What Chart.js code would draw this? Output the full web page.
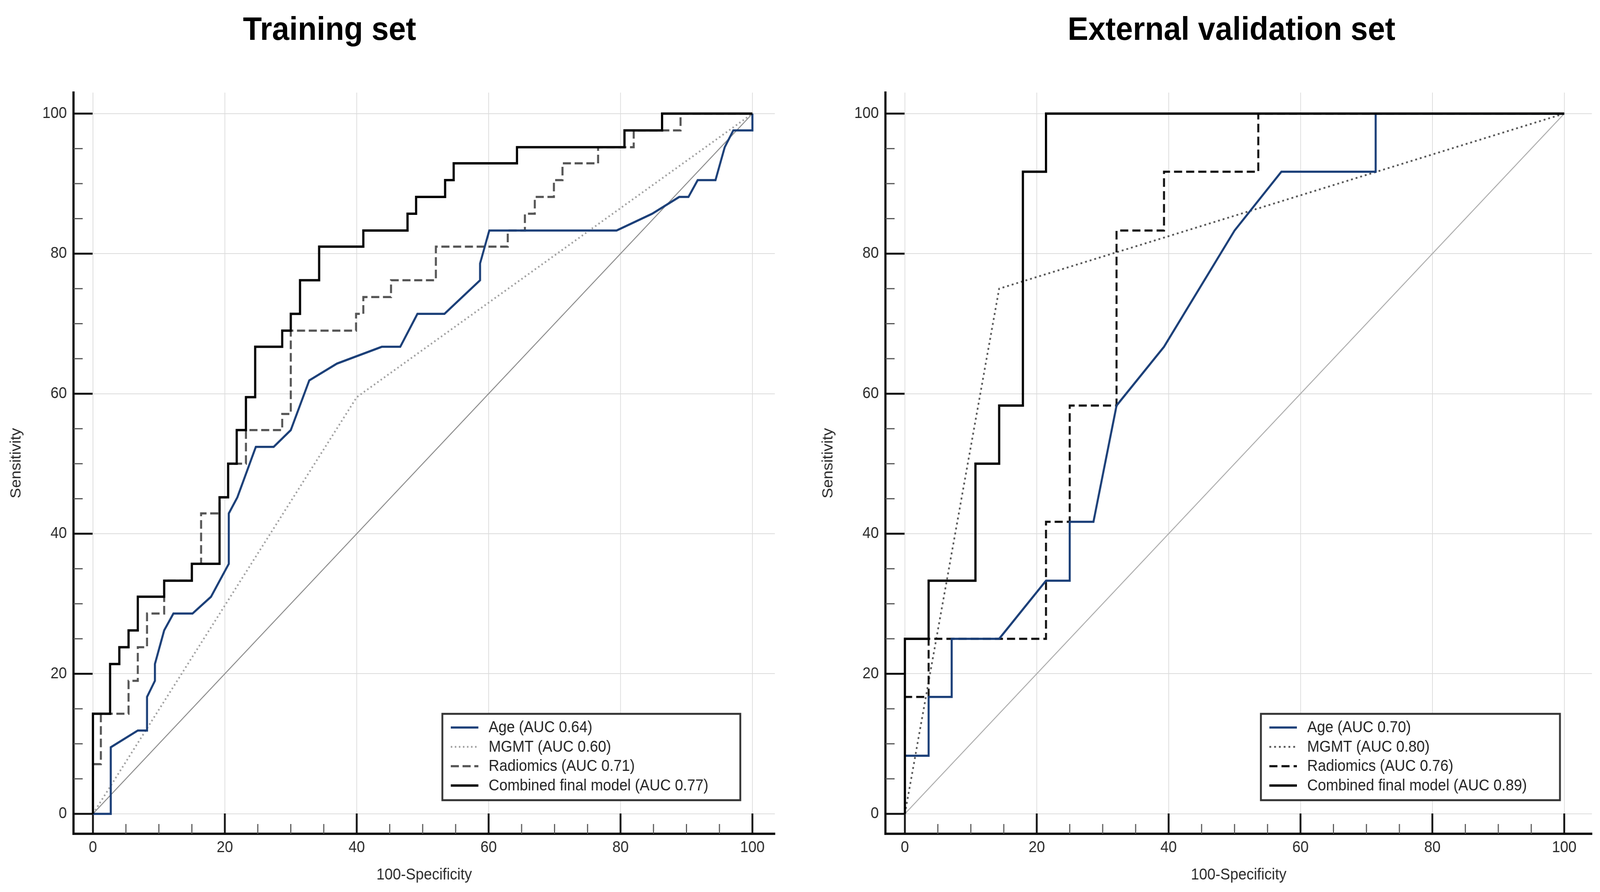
<!DOCTYPE html>
<html>
<head>
<meta charset="utf-8">
<script src="https://cdn.jsdelivr.net/npm/chart.js@4.4.1/dist/chart.umd.min.js"></script>
<style>
  html, body { margin: 0; padding: 0; background: #fff; overflow: hidden; }
  body { font-family: "Liberation Sans", Arial, sans-serif; }
  #page { position: absolute; left: 0; top: 0; width: 4355px; height: 2283px; transform-origin: 0 0; background: #fff; }
  .title { position: absolute; top: 31px; font-size: 84px; font-weight: bold; line-height: 1; white-space: nowrap; transform: translateX(-50%); color: #000; }
  canvas { position: absolute; top: 0; }
</style>
</head>
<body>
<div id="page">
  <div class="title" style="left:897px">Training set</div>
  <div class="title" style="left:3352px">External validation set</div>
  <canvas id="train" width="2205" height="2283" style="left:0;width:2205px;height:2283px"></canvas>
  <canvas id="valid" width="2145" height="2283" style="left:2210px;width:2145px;height:2283px"></canvas>
</div>
<script>
// axis ticks
const majorTicks = [0, 20, 40, 60, 80, 100];
const tickLabels = ["0", "20", "40", "60", "80", "100"];
const minorTicks = [5, 10, 15, 25, 30, 35, 45, 50, 55, 65, 70, 75, 85, 90, 95];

const seriesNames = ["Age", "MGMT", "Radiomics", "Combined final model"];
const trainAuc = ["0.64", "0.60", "0.71", "0.77"];
const validAuc = ["0.70", "0.80", "0.76", "0.89"];

// reference diagonal
const chanceX = [0, 100];
const chanceY = [0, 100];

// training set: 100-specificity (x) and sensitivity (y)
const trainAgeX = [0, 2.7, 2.7, 6.8, 8.2, 8.2, 9.4, 9.4, 10.8, 12.2, 15.1, 17.9, 20.6, 20.6, 21.9, 24.7, 27.4, 30.0, 32.8, 37.0, 43.8, 46.6, 49.2, 53.3, 58.7, 58.7, 60.1, 79.4, 84.8, 88.9, 90.3, 91.7, 94.4, 95.8, 97.1, 100, 100];
const trainAgeY = [0, 0, 9.5, 11.9, 11.9, 16.7, 19.0, 21.4, 26.2, 28.6, 28.6, 31.0, 35.7, 42.9, 45.2, 52.4, 52.4, 54.8, 61.9, 64.3, 66.7, 66.7, 71.4, 71.4, 76.2, 78.6, 83.3, 83.3, 85.7, 88.1, 88.1, 90.5, 90.5, 95.2, 97.6, 97.6, 100];

const trainMgmtX = [0, 40, 100];
const trainMgmtY = [0, 59.5, 100];

const trainRadX = [0, 0, 1.2, 1.2, 5.4, 5.4, 6.8, 6.8, 8.2, 8.2, 10.8, 10.8, 15.0, 15.0, 16.4, 16.4, 19.2, 19.2, 20.5, 20.5, 23.2, 23.2, 28.7, 28.7, 30.0, 30.0, 39.9, 39.9, 41.0, 41.0, 45.2, 45.2, 52.0, 52.0, 62.9, 62.9, 65.5, 65.5, 67.0, 67.0, 69.9, 69.9, 71.2, 71.2, 76.6, 76.6, 82.0, 82.0, 89.1, 89.1, 100];
const trainRadY = [0, 7.1, 7.1, 14.3, 14.3, 19.0, 19.0, 23.8, 23.8, 28.6, 28.6, 33.3, 33.3, 35.7, 35.7, 42.9, 42.9, 45.2, 45.2, 50.0, 50.0, 54.8, 54.8, 57.1, 57.1, 69.0, 69.0, 71.4, 71.4, 73.8, 73.8, 76.2, 76.2, 81.0, 81.0, 83.3, 83.3, 85.7, 85.7, 88.1, 88.1, 90.5, 90.5, 92.9, 92.9, 95.2, 95.2, 97.6, 97.6, 100, 100];

const trainCombX = [0, 0, 2.6, 2.6, 4.0, 4.0, 5.4, 5.4, 6.8, 6.8, 10.8, 10.8, 15.0, 15.0, 19.2, 19.2, 20.5, 20.5, 21.8, 21.8, 23.2, 23.2, 24.6, 24.6, 28.7, 28.7, 30.0, 30.0, 31.4, 31.4, 34.3, 34.3, 41.0, 41.0, 47.7, 47.7, 49.0, 49.0, 53.4, 53.4, 54.7, 54.7, 64.3, 64.3, 80.6, 80.6, 86.3, 86.3, 100];
const trainCombY = [0, 14.3, 14.3, 21.4, 21.4, 23.8, 23.8, 26.2, 26.2, 31.0, 31.0, 33.3, 33.3, 35.7, 35.7, 45.2, 45.2, 50.0, 50.0, 54.8, 54.8, 59.5, 59.5, 66.7, 66.7, 69.0, 69.0, 71.4, 71.4, 76.2, 76.2, 81.0, 81.0, 83.3, 83.3, 85.7, 85.7, 88.1, 88.1, 90.5, 90.5, 92.9, 92.9, 95.2, 95.2, 97.6, 97.6, 100, 100];

// external validation set
const validAgeX = [0, 0, 3.6, 3.6, 7.1, 7.1, 14.3, 21.4, 25.0, 25.0, 28.6, 32.1, 39.3, 50.0, 57.1, 71.4, 71.4, 100];
const validAgeY = [0, 8.3, 8.3, 16.7, 16.7, 25.0, 25.0, 33.3, 33.3, 41.7, 41.7, 58.3, 66.7, 83.3, 91.7, 91.7, 100, 100];

const validMgmtX = [0, 14.3, 100];
const validMgmtY = [0, 75, 100];

const validRadX = [0, 0, 3.6, 3.6, 21.4, 21.4, 25.0, 25.0, 32.1, 32.1, 39.3, 39.3, 53.6, 53.6, 100];
const validRadY = [0, 16.7, 16.7, 25.0, 25.0, 41.7, 41.7, 58.3, 58.3, 83.3, 83.3, 91.7, 91.7, 100, 100];

const validCombX = [0, 0, 3.6, 3.6, 10.7, 10.7, 14.3, 14.3, 17.9, 17.9, 21.4, 21.4, 100];
const validCombY = [0, 25.0, 25.0, 33.3, 33.3, 50.0, 50.0, 58.3, 58.3, 91.7, 91.7, 100, 100];

// stretch the 4355x2283 page over whatever viewport we actually get
const page = document.getElementById("page");
const sx = window.innerWidth / 4355;
const sy = window.innerHeight / 2283;
if (sx > 0 && sy > 0 && (Math.abs(sx - 1) > 0.001 || Math.abs(sy - 1) > 0.001)) {
  page.style.transform = `scale(${sx}, ${sy})`;
}

Chart.defaults.font.family = "'Liberation Sans', Arial, sans-serif";
Chart.defaults.color = "#2a2a2a";

function pts(xs, ys) {
  return xs.map((x, i) => ({ x: x, y: ys[i] }));
}

// inward tick marks + boxed legend inside the plot
const rocPlugin = {
  id: "roc",
  beforeDatasetsDraw(chart) {
    const { ctx, chartArea: a, scales } = chart;
    ctx.save();
    ctx.lineCap = "butt";
    const mark = (list, len, w, col) => {
      ctx.strokeStyle = col;
      ctx.lineWidth = w;
      list.forEach(v => {
        const px = scales.x.getPixelForValue(v);
        ctx.beginPath(); ctx.moveTo(px, a.bottom); ctx.lineTo(px, a.bottom - len); ctx.stroke();
        const py = scales.y.getPixelForValue(v);
        ctx.beginPath(); ctx.moveTo(a.left, py); ctx.lineTo(a.left + len, py); ctx.stroke();
      });
    };
    mark(minorTicks, 25, 3, "#555");
    mark(majorTicks, 52, 5, "#111");
    ctx.restore();
  },
  afterDraw(chart, args, opts) {
    const { ctx } = chart;
    const b = opts.box;
    if (!b) return;
    ctx.save();
    ctx.fillStyle = "#fff";
    ctx.fillRect(b.left, b.top, b.width, b.height);
    ctx.strokeStyle = "#333";
    ctx.lineWidth = 5;
    ctx.strokeRect(b.left, b.top, b.width, b.height);
    ctx.font = "40px 'Liberation Sans', Arial, sans-serif";
    ctx.textBaseline = "middle";
    ctx.textAlign = "left";
    chart.data.datasets.filter(d => d.label).forEach((d, i) => {
      const yy = b.top + 35 + i * 49.5;
      ctx.strokeStyle = d.borderColor;
      ctx.lineWidth = d.borderWidth;
      ctx.setLineDash(d.borderDash || []);
      ctx.beginPath(); ctx.moveTo(b.left + 23, yy); ctx.lineTo(b.left + 98, yy); ctx.stroke();
      ctx.setLineDash([]);
      ctx.fillStyle = "#222";
      ctx.fillText(d.label, b.left + 126, yy + 1);
    });
    ctx.restore();
  }
};

function makeRoc(id, sets, auc, xMax, padRight, box) {
  const datasets = [
    { label: `${seriesNames[0]} (AUC ${auc[0]})`, data: pts(sets.ageX, sets.ageY), borderColor: "#1b3f78", borderWidth: 5.5, order: 2 },
    { label: `${seriesNames[1]} (AUC ${auc[1]})`, data: pts(sets.mgmtX, sets.mgmtY), borderColor: sets.mgmtColor, borderWidth: 4.5, borderDash: sets.mgmtDash, order: 4 },
    { label: `${seriesNames[2]} (AUC ${auc[2]})`, data: pts(sets.radX, sets.radY), borderColor: sets.radColor, borderWidth: 5.5, borderDash: sets.radDash, order: 3 },
    { label: `${seriesNames[3]} (AUC ${auc[3]})`, data: pts(sets.combX, sets.combY), borderColor: "#000", borderWidth: 6, order: 1 },
    { data: pts(chanceX, chanceY), borderColor: sets.chanceColor, borderWidth: 2.5, order: 5 }
  ];
  datasets.forEach(d => { d.showLine = true; d.pointRadius = 0; d.fill = false; d.tension = 0; });

  const tickCb = v => tickLabels[majorTicks.indexOf(v)];
  const setTicks = s => { s.ticks = majorTicks.map(v => ({ value: v })); };

  return new Chart(document.getElementById(id), {
    type: "scatter",
    data: { datasets: datasets },
    plugins: [rocPlugin],
    options: {
      responsive: false,
      devicePixelRatio: 1,
      animation: false,
      layout: { padding: { top: 237, right: padRight, bottom: 0, left: 0 } },
      plugins: {
        legend: { display: false },
        tooltip: { enabled: false },
        roc: { box: box }
      },
      scales: {
        x: {
          type: "linear", min: -2.95, max: xMax,
          afterBuildTicks: setTicks,
          afterFit: s => { s.height = 149; },
          ticks: { callback: tickCb, font: { size: 40 }, color: "#2a2a2a", padding: 12, maxRotation: 0, autoSkip: false },
          grid: { color: "#dcdcdc", lineWidth: 2, drawTicks: false },
          border: { color: "#111", width: 6 },
          title: { display: true, text: "100-Specificity", font: { size: 40 }, color: "#2a2a2a", padding: { top: 0, bottom: 19 } }
        },
        y: {
          type: "linear", min: -2.85, max: 103,
          afterBuildTicks: setTicks,
          afterFit: s => { s.width = 200; },
          ticks: { callback: tickCb, font: { size: 40 }, color: "#2a2a2a", padding: 18, autoSkip: false },
          grid: { color: "#dcdcdc", lineWidth: 2, drawTicks: false },
          border: { color: "#111", width: 6 },
          title: { display: true, text: "Sensitivity", font: { size: 40 }, color: "#2a2a2a", padding: { top: 21, bottom: 0 } }
        }
      }
    }
  });
}

makeRoc("train", {
  ageX: trainAgeX, ageY: trainAgeY,
  mgmtX: trainMgmtX, mgmtY: trainMgmtY, mgmtColor: "#9e9e9e", mgmtDash: [4, 7],
  radX: trainRadX, radY: trainRadY, radColor: "#555", radDash: [22, 10],
  combX: trainCombX, combY: trainCombY,
  chanceColor: "#888"
}, trainAuc, 103.4, 96, { left: 1204, top: 1827, width: 811, height: 221 });

makeRoc("valid", {
  ageX: validAgeX, ageY: validAgeY,
  mgmtX: validMgmtX, mgmtY: validMgmtY, mgmtColor: "#555", mgmtDash: [5, 8],
  radX: validRadX, radY: validRadY, radColor: "#111", radDash: [22, 11],
  combX: validCombX, combY: validCombY,
  chanceColor: "#aaa"
}, validAuc, 104.2, 22, { left: 1222, top: 1827, width: 814, height: 221 });
</script>
</body>
</html>
